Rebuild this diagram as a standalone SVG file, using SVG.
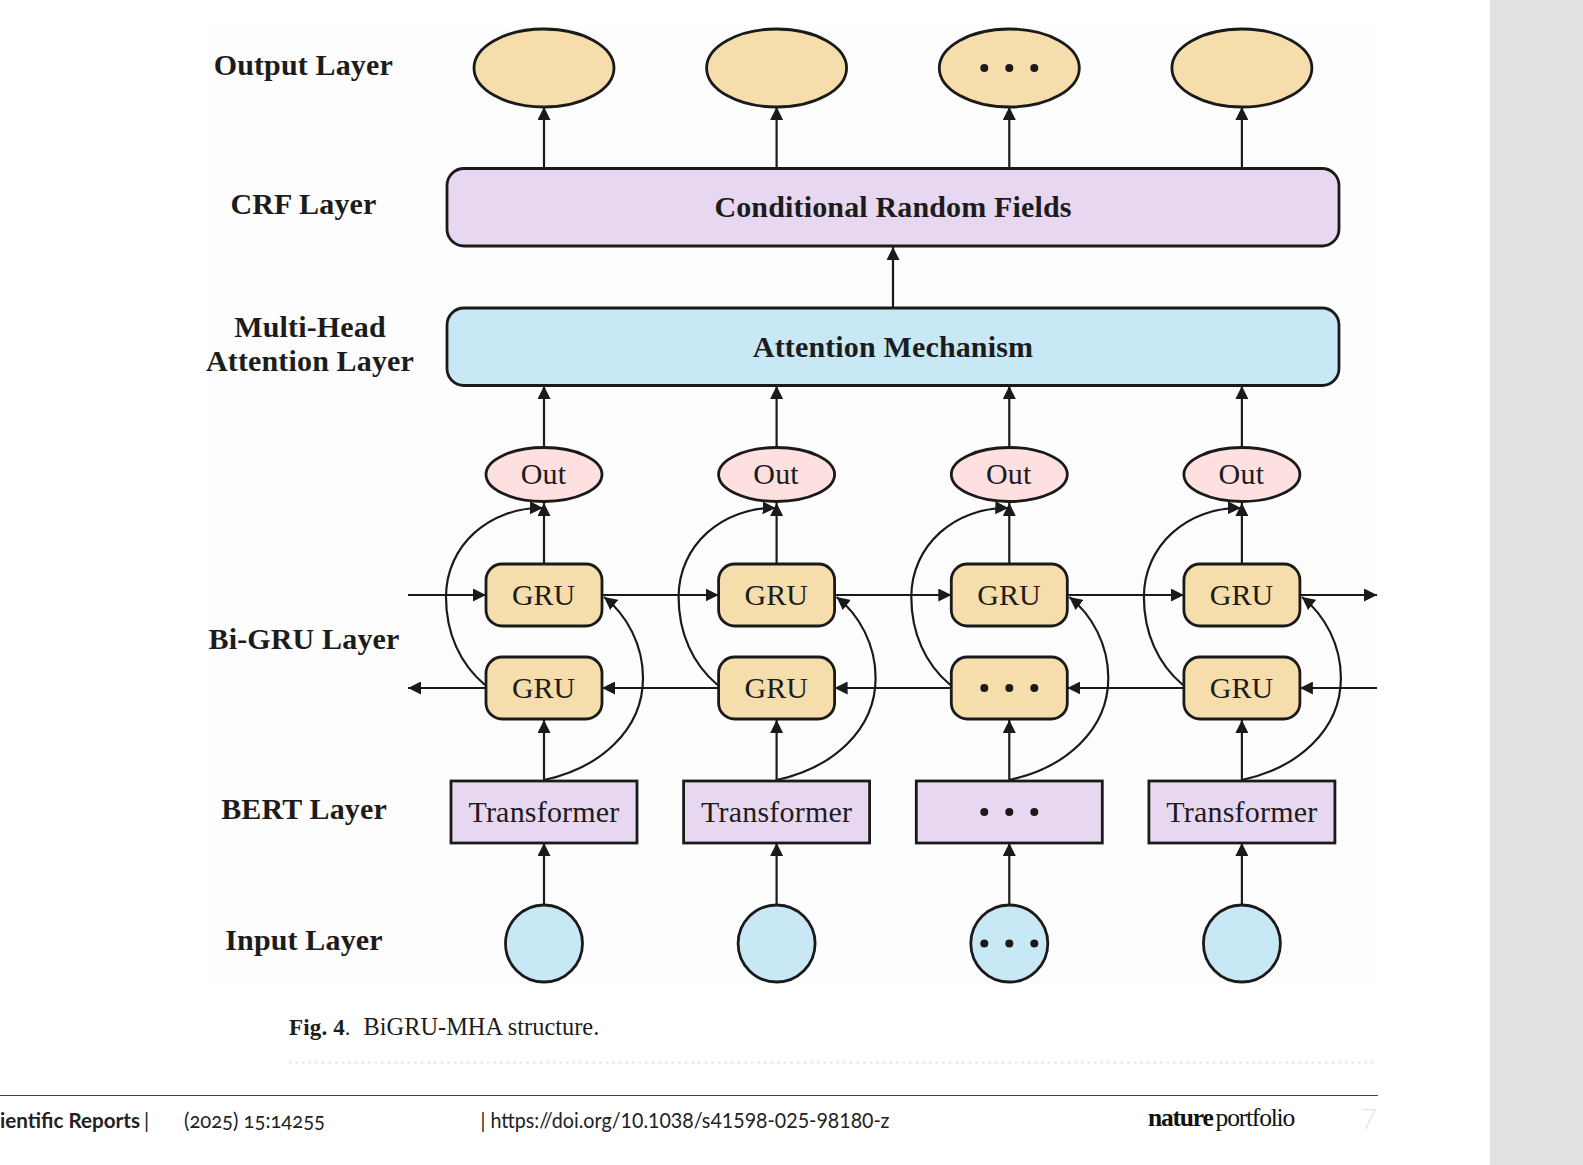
<svg xmlns="http://www.w3.org/2000/svg" width="1583" height="1165" viewBox="0 0 1583 1165">
<style>
text{font-family:"Liberation Serif","Times New Roman",serif;fill:#1c1c1c;font-size:30px;text-anchor:middle}
.b{font-weight:bold;letter-spacing:.15px}
.s{stroke:#1a1a1a;stroke-width:2.8}
.tan{fill:#f5deab}.pur{fill:#e8d7f0}.blu{fill:#c8e8f5}.pnk{fill:#fde0df}
.c{fill:none;stroke:#1a1a1a;stroke-width:2.2;marker-end:url(#a)}
.f{font-family:"Lato","Noto Sans",sans-serif;font-size:20.500px;text-anchor:start;fill:#222}
.d{fill:#1a1a1a}
</style>
<defs>
<marker id="a" viewBox="0 0 13 13" refX="13" refY="6.5" markerWidth="13" markerHeight="13" markerUnits="userSpaceOnUse" orient="auto"><path d="M0 0L13 6.5L0 13Z" fill="#1a1a1a"/></marker>
</defs>
<rect x="0" y="0" width="1583" height="1165" fill="#fff"/>
<rect x="1490" y="0" width="93" height="1165" fill="#e2e2e2"/>
<rect x="206" y="27" width="1171" height="958" fill="#fdfdfd"/>

<g id="connectors">
<path class="c" d="M544 168V107"/><path class="c" d="M776.6 168V107"/><path class="c" d="M1009.3 168V107"/><path class="c" d="M1241.9 168V107"/>
<path class="c" d="M893 307V247"/>
<path class="c" d="M544 447V386"/><path class="c" d="M776.6 447V386"/><path class="c" d="M1009.3 447V386"/><path class="c" d="M1241.9 447V386"/>
<path class="c" d="M544 563V503"/><path class="c" d="M776.6 563V503"/><path class="c" d="M1009.3 563V503"/><path class="c" d="M1241.9 563V503"/>
<path class="c" d="M408 595H486"/><path class="c" d="M602 595H718.6"/><path class="c" d="M834.6 595H951.3"/><path class="c" d="M1067.3 595H1183.9"/><path class="c" d="M1299.9 595H1377"/>
<path class="c" d="M486 688H408"/><path class="c" d="M718.6 688H602"/><path class="c" d="M951.3 688H834.6"/><path class="c" d="M1183.9 688H1067.3"/><path class="c" d="M1377 688H1299.9"/>
<path class="c" d="M544 780V720"/><path class="c" d="M776.6 780V720"/><path class="c" d="M1009.3 780V720"/><path class="c" d="M1241.9 780V720"/>
<path class="c" d="M544 904V843"/><path class="c" d="M776.6 904V843"/><path class="c" d="M1009.3 904V843"/><path class="c" d="M1241.9 904V843"/>
<g id="bypass">
<path class="c" d="M485 685C460 664 446 633 446 597C446 545 490 507 543 508"/>
<path class="c" d="M717.6 685C692.6 664 678.6 633 678.6 597C678.6 545 722.6 507 775.6 508"/>
<path class="c" d="M950.3 685C925.3 664 911.3 633 911.3 597C911.3 545 955.3 507 1008.3 508"/>
<path class="c" d="M1182.9 685C1157.9 664 1143.9 633 1143.9 597C1143.9 545 1187.9 507 1240.9 508"/>
<path class="c" d="M544 780C600 768 643 730 643 678C643 645 627 615 604 597"/>
<path class="c" d="M776.6 780C832.6 768 875.6 730 875.6 678C875.6 645 859.6 615 836.6 597"/>
<path class="c" d="M1009.3 780C1065.3 768 1108.3 730 1108.3 678C1108.3 645 1092.3 615 1069.3 597"/>
<path class="c" d="M1241.9 780C1297.9 768 1340.9 730 1340.9 678C1340.9 645 1324.9 615 1301.9 597"/>
</g>
</g>

<g id="label-output"><text class="b" x="303.300" y="75">Output Layer</text></g>
<g id="label-crf"><text class="b" x="303.500" y="214">CRF Layer</text></g>
<g id="label-mha"><text class="b" x="310" y="337">Multi-Head</text><text class="b" x="310" y="371">Attention Layer</text></g>
<g id="label-bigru"><text class="b" x="304" y="649">Bi-GRU Layer</text></g>
<g id="label-bert"><text class="b" x="304" y="818.500">BERT Layer</text></g>
<g id="label-input"><text class="b" x="304" y="950">Input Layer</text></g>

<g id="out1"><ellipse class="tan s" cx="544" cy="68" rx="70" ry="39"/></g>
<g id="out2"><ellipse class="tan s" cx="776.6" cy="68" rx="70" ry="39"/></g>
<g id="out3"><ellipse class="tan s" cx="1009.3" cy="68" rx="70" ry="39"/><circle class="d" cx="984.3" cy="68" r="4"/><circle class="d" cx="1009.3" cy="68" r="4"/><circle class="d" cx="1034.3" cy="68" r="4"/></g>
<g id="out4"><ellipse class="tan s" cx="1241.9" cy="68" rx="70" ry="39"/></g>

<g id="crf"><rect class="pur s" x="447" y="168.500" width="892" height="77.500" rx="17"/><text class="b" x="893" y="217">Conditional Random Fields</text></g>
<g id="attention"><rect class="blu s" x="447" y="308" width="892" height="77.500" rx="17"/><text class="b" x="893" y="357">Attention Mechanism</text></g>

<g id="o1"><ellipse class="pnk s" cx="544" cy="474.500" rx="58" ry="27"/><text x="543.500" y="484" style="letter-spacing:.2px">Out</text></g>
<g id="o2"><ellipse class="pnk s" cx="776.6" cy="474.500" rx="58" ry="27"/><text x="776.100" y="484" style="letter-spacing:.2px">Out</text></g>
<g id="o3"><ellipse class="pnk s" cx="1009.3" cy="474.500" rx="58" ry="27"/><text x="1008.800" y="484" style="letter-spacing:.2px">Out</text></g>
<g id="o4"><ellipse class="pnk s" cx="1241.9" cy="474.500" rx="58" ry="27"/><text x="1241.400" y="484" style="letter-spacing:.2px">Out</text></g>

<g id="gu1"><rect class="tan s" x="486" y="564" width="116" height="62" rx="16"/><text x="543.600" y="604.500">GRU</text></g>
<g id="gu2"><rect class="tan s" x="718.6" y="564" width="116" height="62" rx="16"/><text x="776.200" y="604.500">GRU</text></g>
<g id="gu3"><rect class="tan s" x="951.3" y="564" width="116" height="62" rx="16"/><text x="1008.900" y="604.500">GRU</text></g>
<g id="gu4"><rect class="tan s" x="1183.9" y="564" width="116" height="62" rx="16"/><text x="1241.500" y="604.500">GRU</text></g>

<g id="gl1"><rect class="tan s" x="486" y="657" width="116" height="62" rx="16"/><text x="543.600" y="697.500">GRU</text></g>
<g id="gl2"><rect class="tan s" x="718.6" y="657" width="116" height="62" rx="16"/><text x="776.200" y="697.500">GRU</text></g>
<g id="gl3"><rect class="tan s" x="951.3" y="657" width="116" height="62" rx="16"/><circle class="d" cx="984.3" cy="688" r="4"/><circle class="d" cx="1009.3" cy="688" r="4"/><circle class="d" cx="1034.3" cy="688" r="4"/></g>
<g id="gl4"><rect class="tan s" x="1183.9" y="657" width="116" height="62" rx="16"/><text x="1241.500" y="697.500">GRU</text></g>

<g id="t1"><rect class="pur s" x="451" y="781" width="186" height="62"/><text x="544" y="822" style="letter-spacing:.2px">Transformer</text></g>
<g id="t2"><rect class="pur s" x="683.6" y="781" width="186" height="62"/><text x="776.6" y="822" style="letter-spacing:.2px">Transformer</text></g>
<g id="t3"><rect class="pur s" x="916.3" y="781" width="186" height="62"/><circle class="d" cx="984.3" cy="812" r="4"/><circle class="d" cx="1009.3" cy="812" r="4"/><circle class="d" cx="1034.3" cy="812" r="4"/></g>
<g id="t4"><rect class="pur s" x="1148.9" y="781" width="186" height="62"/><text x="1241.9" y="822" style="letter-spacing:.2px">Transformer</text></g>

<g id="i1"><circle class="blu s" cx="544" cy="943.500" r="38.500"/></g>
<g id="i2"><circle class="blu s" cx="776.6" cy="943.500" r="38.500"/></g>
<g id="i3"><circle class="blu s" cx="1009.3" cy="943.500" r="38.500"/><circle class="d" cx="984.3" cy="943.500" r="4"/><circle class="d" cx="1009.3" cy="943.500" r="4"/><circle class="d" cx="1034.3" cy="943.500" r="4"/></g>
<g id="i4"><circle class="blu s" cx="1241.9" cy="943.500" r="38.500"/></g>

<g id="caption"><text x="289" y="1035" style="font-size:23px;text-anchor:start"><tspan class="b">Fig. 4</tspan>.<tspan x="363.500" style="font-size:24.400px">BiGRU-MHA structure.</tspan></text></g>
<line x1="289" y1="1062.500" x2="1378" y2="1062.500" stroke="#d8e5f0" stroke-width="2.200" stroke-dasharray="2.200 4.400"/>
<line x1="0" y1="1095.500" x2="1378" y2="1095.500" stroke="#444" stroke-width="1.200"/>
<g id="footer">
<text class="f" x="0" y="1128"><tspan font-weight="bold" textLength="140" lengthAdjust="spacingAndGlyphs">ientific Reports</tspan><tspan x="144">|</tspan></text>
<text class="f" x="184" y="1128" textLength="141" lengthAdjust="spacingAndGlyphs" style="font-feature-settings:'onum'">(2025) 15:14255</text>
<text class="f" x="480.500" y="1128" textLength="409" lengthAdjust="spacingAndGlyphs">| https://doi.org/10.1038/s41598-025-98180-z</text>
<text x="1148" y="1126" style="font-size:25.500px;text-anchor:start;letter-spacing:-1.200px;fill:#111"><tspan font-weight="bold">nature</tspan><tspan dx="3">portfolio</tspan></text>
<text x="1377" y="1129" style="font-family:'Lato',sans-serif;font-weight:300;font-size:28px;text-anchor:end;fill:#dce6f0">7</text>
</g>
</svg>
